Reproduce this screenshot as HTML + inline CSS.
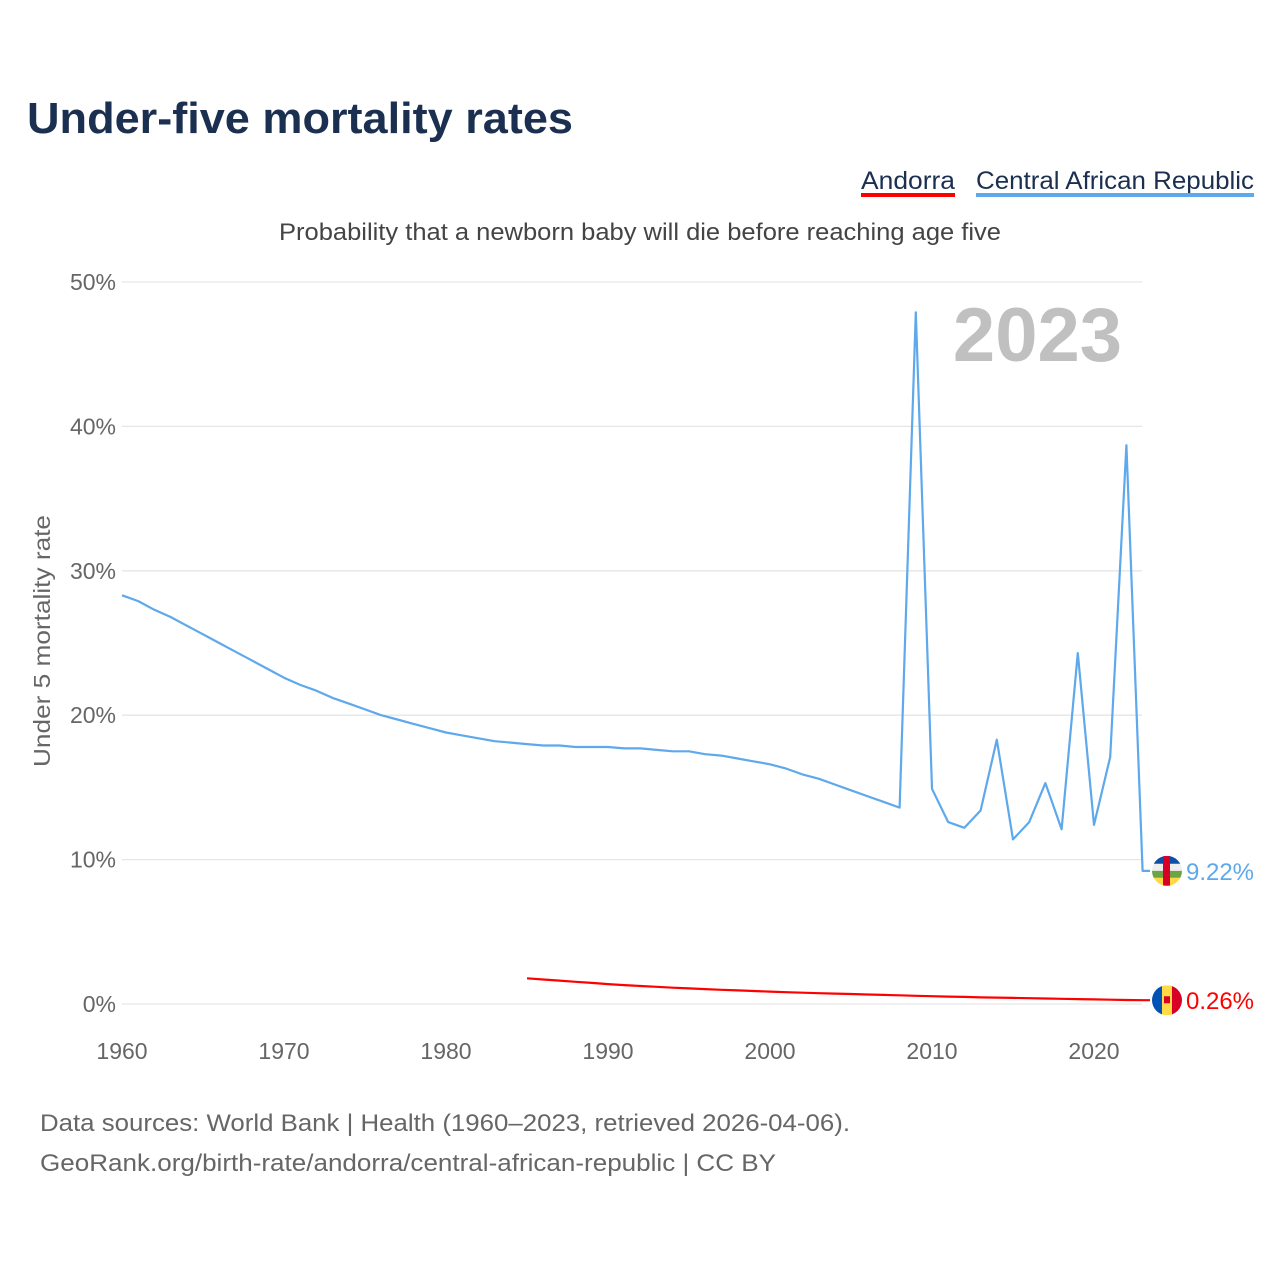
<!DOCTYPE html>
<html><head><meta charset="utf-8"><style>
body{margin:0;background:#fff;font-family:"Liberation Sans",sans-serif;}
#wrap{position:relative;width:1280px;height:1280px;overflow:hidden;}
</style></head><body>
<div id="wrap">
<svg id="chart" width="1280" height="1280" style="position:absolute;left:0;top:0"></svg>
</div>
<script>
const years = [];
for (let y = 1960; y <= 2023; y++) years.push(y);
const carValues = [28.3,27.9,27.3,26.8,26.2,25.6,25.0,24.4,23.8,23.2,22.6,22.1,21.7,21.2,20.8,20.4,20.0,19.7,19.4,19.1,18.8,18.6,18.4,18.2,18.1,18.0,17.9,17.9,17.8,17.8,17.8,17.7,17.7,17.6,17.5,17.5,17.3,17.2,17.0,16.8,16.6,16.3,15.9,15.6,15.2,14.8,14.4,14.0,13.6,47.9,14.9,12.6,12.2,13.4,18.3,11.4,12.6,15.3,12.1,24.3,12.4,17.1,38.7,9.22];
const andorraStart = 1985;
const andorraValues = [1.78,1.70,1.62,1.54,1.46,1.38,1.31,1.25,1.19,1.13,1.08,1.03,0.98,0.94,0.90,0.86,0.82,0.78,0.75,0.72,0.69,0.66,0.63,0.60,0.57,0.54,0.51,0.49,0.46,0.44,0.42,0.40,0.38,0.36,0.34,0.32,0.30,0.28,0.26];
const yTicks = [0,10,20,30,40,50];
const xTicks = [1960,1970,1980,1990,2000,2010,2020];

const NS = "http://www.w3.org/2000/svg";
const svg = document.getElementById('chart');
const X = yr => 122 + (yr - 1960) * 16.2;
const Y = v => 1004 - v * 14.44;
function mk(tag, attrs, text){
  const e = document.createElementNS(NS, tag);
  for (const k in attrs) e.setAttribute(k, attrs[k]);
  if (text !== undefined) e.textContent = text;
  svg.appendChild(e);
  return e;
}
let e;
e = mk('text',{x:27,y:133,'font-size':44,'font-weight':'bold',fill:'#1b2f50',textLength:546,lengthAdjust:'spacingAndGlyphs'},'Under-five mortality rates');


e = mk('text',{x:279,y:240,'font-size':24,fill:'#444',textLength:722,lengthAdjust:'spacingAndGlyphs'},'Probability that a newborn baby will die before reaching age five');


// legend
e = mk('text',{x:861,y:189,'font-size':25,fill:'#1b2f50',textLength:94,lengthAdjust:'spacingAndGlyphs'},'Andorra');


e = mk('rect',{x:861,y:193,width:94,height:4,fill:'#ff0000'});


e = mk('text',{x:976,y:189,'font-size':25,fill:'#1b2f50',textLength:278,lengthAdjust:'spacingAndGlyphs'},'Central African Republic');


e = mk('rect',{x:976,y:193,width:278,height:4,fill:'#5ea8ec'});


// grid & y ticks
yTicks.forEach(t=>{
  e = mk('line',{x1:122,x2:1142,y1:Y(t),y2:Y(t),stroke:'#e6e6e6','stroke-width':1.3});
  
  
  e = mk('text',{x:116,y:Y(t)+8,'font-size':23,fill:'#666','text-anchor':'end'},t+'%');
  
  
});
xTicks.forEach(t=>{
  e = mk('text',{x:X(t),y:1059,'font-size':23,fill:'#666','text-anchor':'middle'},String(t));
  
  
});
e = mk('text',{x:-767,y:50,'font-size':23,fill:'#666',transform:'rotate(-90)',textLength:252,lengthAdjust:'spacingAndGlyphs'},'Under 5 mortality rate');


e = mk('text',{x:1122,y:361,'font-size':76,'font-weight':'bold',fill:'#c0c0c0','text-anchor':'end'},'2023');


// series
let d = carValues.map((v,i)=>(i?'L':'M')+X(years[i]).toFixed(1)+','+Y(v).toFixed(1)).join(' ');
d += ' L1150,'+Y(carValues[carValues.length-1]).toFixed(1);
e = mk('path',{d:d,fill:'none',stroke:'#5ea8ec','stroke-width':2.2,'stroke-linejoin':'round'});


let d2 = andorraValues.map((v,i)=>(i?'L':'M')+X(andorraStart+i).toFixed(1)+','+Y(v).toFixed(1)).join(' ');
d2 += ' L1150,'+Y(andorraValues[andorraValues.length-1]).toFixed(1);
e = mk('path',{d:d2,fill:'none',stroke:'#ff0000','stroke-width':2.2});


// flags
const cy1 = Y(carValues[carValues.length-1]);
const cy2 = Y(andorraValues[andorraValues.length-1]);
const defs = mk('defs',{});
defs.innerHTML = '<clipPath id="c1"><circle cx="1167" cy="'+cy1+'" r="15"/></clipPath><clipPath id="c2"><circle cx="1167" cy="'+cy2+'" r="15"/></clipPath>';
const g1 = mk('g',{'clip-path':'url(#c1)'});


g1.innerHTML = '<rect x="1152" y="'+(cy1-15)+'" width="30" height="8" fill="#0a4fa8"/><rect x="1152" y="'+(cy1-7)+'" width="30" height="7" fill="#eee"/><rect x="1152" y="'+cy1+'" width="30" height="7" fill="#6da544"/><rect x="1152" y="'+(cy1+7)+'" width="30" height="8" fill="#ffda44"/><rect x="1163" y="'+(cy1-15)+'" width="7" height="30" fill="#d80027"/>';
const g2 = mk('g',{'clip-path':'url(#c2)'});


g2.innerHTML = '<rect x="1152" y="'+(cy2-15)+'" width="10" height="30" fill="#0052b4"/><rect x="1162" y="'+(cy2-15)+'" width="10" height="30" fill="#ffda44"/><rect x="1172" y="'+(cy2-15)+'" width="10" height="30" fill="#d80027"/><rect x="1164" y="'+(cy2-4)+'" width="6" height="7" fill="#d80027"/>';
e = mk('text',{x:1186,y:cy1+9,'font-size':24,fill:'#5ea8ec',textLength:68,lengthAdjust:'spacingAndGlyphs'},'9.22%');


e = mk('text',{x:1186,y:cy2+9,'font-size':24,fill:'#ff0000',textLength:68,lengthAdjust:'spacingAndGlyphs'},'0.26%');


e = mk('text',{x:40,y:1131,'font-size':24,fill:'#666',textLength:810,lengthAdjust:'spacingAndGlyphs'},'Data sources: World Bank | Health (1960–2023, retrieved 2026-04-06).');


e = mk('text',{x:40,y:1171,'font-size':24,fill:'#666',textLength:736,lengthAdjust:'spacingAndGlyphs'},'GeoRank.org/birth-rate/andorra/central-african-republic | CC BY');


</script>
</body></html>
